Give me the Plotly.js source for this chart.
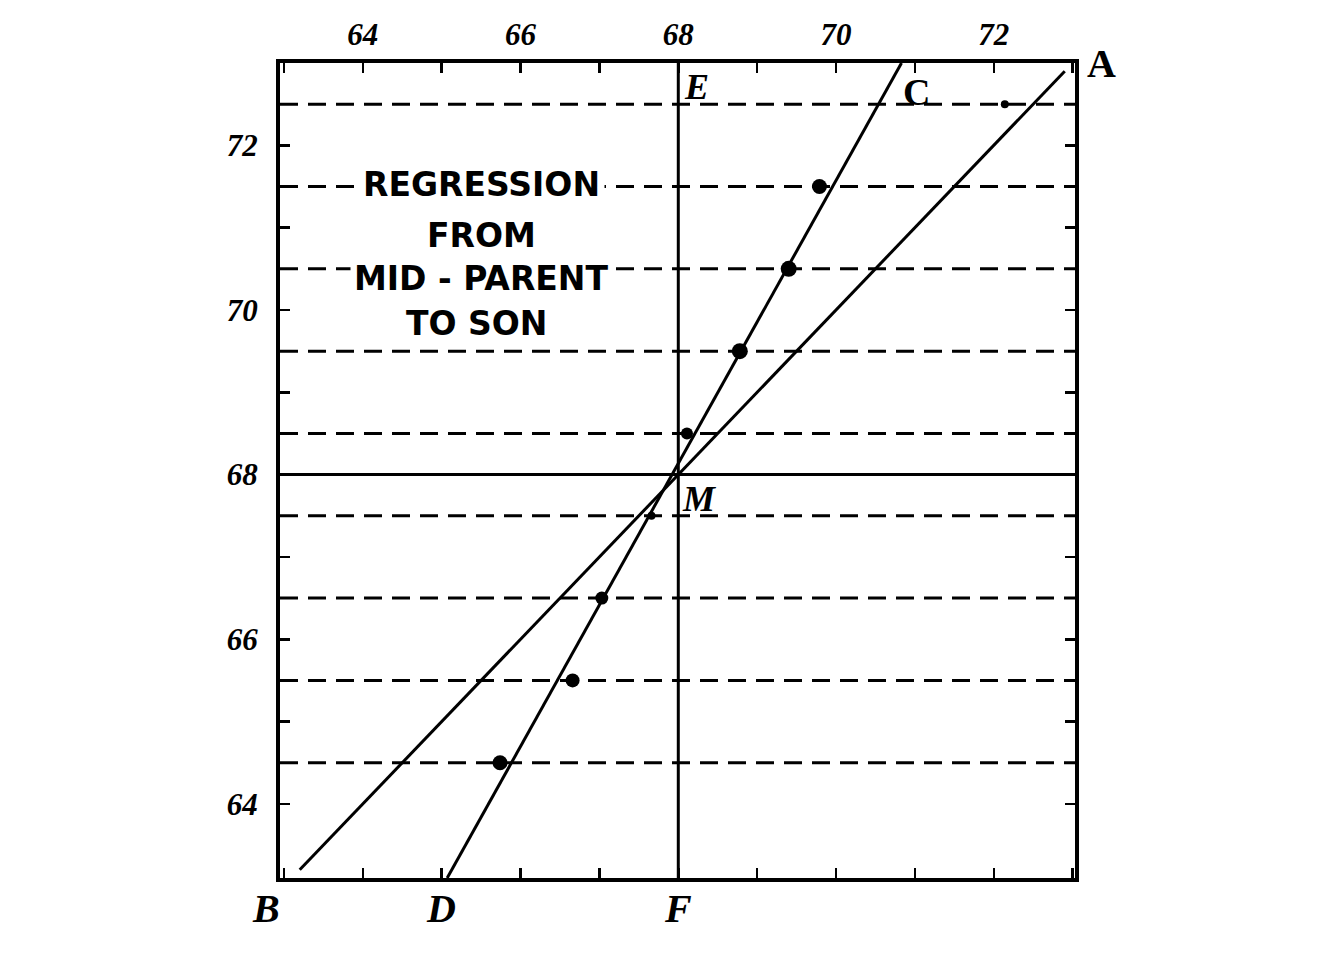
<!DOCTYPE html>
<html>
<head>
<meta charset="utf-8">
<script src="https://cdn.plot.ly/plotly-3.0.1.min.js"></script>
<style>html,body{margin:0;padding:0;background:#fff;}#chart{width:1344px;height:960px;}</style>
</head>
<body>
<div id="chart"></div>
<script>
// Mid-parent heights (rows) and mean height of sons for each row (inches)
const midParent = [72.5, 71.5, 70.5, 69.5, 68.5, 67.5, 66.5, 65.5, 64.5];
const sonMean   = [72.14, 69.79, 69.40, 68.78, 68.11, 67.66, 67.03, 66.66, 65.74];
// Line of regression (D -> C) and line of equality (B -> A)
const regressionX = [65.07, 70.83];
const regressionY = [63.1, 73.0];
const equalityX = [63.2, 72.9];
const equalityY = [63.2, 72.9];
// Mean height M
const meanHeight = 68;
// Axis ticks
const tickVals = [64, 66, 68, 70, 72];
const tickText = ['64', '66', '68', '70', '72'];
const titleLines = ['REGRESSION', 'FROM', 'MID - PARENT', 'TO SON'];

const XR = [62.95, 73.03];
const YR = [63.1, 73.0];

const ink = '#000';
const serifBold = {family: 'Liberation Serif, DejaVu Serif, serif', color: ink, weight: 'bold'};

const traces = [
  {x: regressionX, y: regressionY, mode: 'lines', line: {color: ink, width: 3}, hoverinfo: 'skip'},
  {x: equalityX, y: equalityY, mode: 'lines', line: {color: ink, width: 3}, hoverinfo: 'skip'},
  {x: sonMean, y: midParent, mode: 'markers', opacity: 1,
   marker: {color: ink, opacity: 1, line: {width: 0}, size: [8, 15, 16, 16, 12, 8, 13, 14, 15]}, hoverinfo: 'skip'}
];

const shapes = [];
midParent.forEach(v => shapes.push({type: 'line', xref: 'paper', yref: 'y', x0: 0, x1: 1, y0: v, y1: v,
  line: {color: ink, width: 3, dash: '18px,10px'}, layer: 'below'}));
shapes.push({type: 'line', xref: 'paper', yref: 'y', x0: 0, x1: 1, y0: meanHeight, y1: meanHeight,
  line: {color: ink, width: 3}, layer: 'below'});
shapes.push({type: 'line', xref: 'x', yref: 'paper', x0: meanHeight, x1: meanHeight, y0: 0, y1: 1,
  line: {color: ink, width: 3}, layer: 'below'});

const titleFont = {family: 'DejaVu Sans, Verdana, sans-serif', size: 33, color: ink, weight: 'bold'};
const titleX = 65.5;
const annotations = [
  {x: titleX, y: 71.53, text: titleLines[0], bgcolor: '#fff', borderpad: 4},
  {x: titleX, y: 70.9, text: titleLines[1]},
  {x: titleX, y: 70.38, text: titleLines[2], bgcolor: '#fff', borderpad: 3},
  {x: titleX - 0.05, y: 69.83, text: titleLines[3]}
].map(a => Object.assign({xref: 'x', yref: 'y', showarrow: false, font: titleFont,
  xanchor: 'center', yanchor: 'middle'}, a));

const letter = (text, x, y, xa, ya, size, italic, xs, ys) => ({
  text, x, y, xref: 'x', yref: 'y', showarrow: false, xanchor: xa, yanchor: ya,
  xshift: xs || 0, yshift: ys || 0,
  font: Object.assign({}, serifBold, {size: size, style: italic ? 'italic' : 'normal'})
});
annotations.push(
  letter('E', meanHeight, YR[1], 'left', 'top', 36, true, 4, -2),
  letter('C', regressionX[1], YR[1], 'left', 'top', 38, false, 0, -6),
  letter('A', equalityX[1], YR[1], 'left', 'middle', 40, false, 20, 0),
  letter('B', XR[0], YR[0], 'center', 'top', 40, true, -14, -6),
  letter('D', regressionX[0], YR[0], 'center', 'top', 40, true, -6, -6),
  letter('F', meanHeight, YR[0], 'center', 'top', 40, true, 0, -6),
  letter('M', meanHeight, meanHeight, 'left', 'top', 36, true, 2, -2)
);

const axisCommon = {
  showgrid: false, zeroline: false, showline: true, linecolor: ink, linewidth: 4,
  mirror: 'ticks', ticks: 'inside', ticklen: 10, tickwidth: 2.5, tickcolor: ink,
  tickvals: tickVals, ticktext: tickText,
  minor: {dtick: 1, tick0: 0, ticks: 'inside', ticklen: 10, tickwidth: 2.5, tickcolor: ink},
  tickfont: {family: 'Liberation Serif, DejaVu Serif, serif', size: 31, color: ink, weight: 'bold', style: 'italic'},
  fixedrange: true
};

const layout = {
  width: 1344, height: 960,
  margin: {l: 280, r: 269, t: 63, b: 82, pad: 0},
  paper_bgcolor: '#fff', plot_bgcolor: '#fff',
  showlegend: false,
  xaxis: Object.assign({}, axisCommon, {range: XR, side: 'top', ticklabelstandoff: 2}),
  yaxis: Object.assign({}, axisCommon, {range: YR, ticklabelstandoff: 12}),
  shapes, annotations
};

Plotly.newPlot('chart', traces, layout, {staticPlot: true, displayModeBar: false});
</script>
</body>
</html>
